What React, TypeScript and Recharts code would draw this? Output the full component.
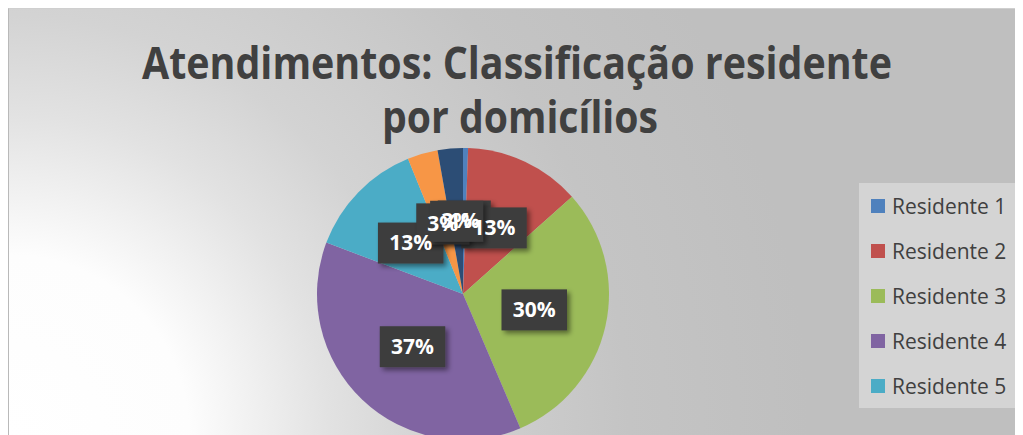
import { Cell, Legend, Pie, PieChart } from 'recharts'

const residentes = [
  'Residente 1',
  'Residente 2',
  'Residente 3',
  'Residente 4',
  'Residente 5',
  'Residente 6',
  'Residente 7',
]
const atendimentos = [2, 46, 108, 133, 47, 12, 10]
const sliceColors = ['#4f81bd', '#c0504d', '#9bbb59', '#8064a2', '#4bacc6', '#f79646', '#2c4d75']
const visibleLegendItems = 5

const titleLines = ['Atendimentos: Classificação residente', 'por domicílios']

const data = residentes.map((name, i) => ({ name, value: atendimentos[i] }))

const RAD = Math.PI / 180
const fontFamily = '"Open Sans", "Noto Sans", sans-serif'

type LabelProps = {
  cx?: number
  cy?: number
  midAngle?: number
  outerRadius?: number
  percent?: number
}

function labelPos({ cx = 0, cy = 0, midAngle = 0, outerRadius = 0, percent = 0 }: LabelProps) {
  const r = outerRadius * 0.5
  return {
    x: cx + r * Math.cos(-midAngle * RAD),
    y: cy + r * Math.sin(-midAngle * RAD),
    text: `${Math.round(percent * 100)}%`,
  }
}

// boxes first, texts in a second pass so every text sits above every box (like Excel)
function renderLabelBox(props: LabelProps) {
  const { x, y, text } = labelPos(props)
  const w = 28 + text.length * 12.5
  const h = 41
  return <rect x={x - w / 2} y={y - h / 2} width={w} height={h} fill="#3d3d3d" filter="url(#boxShadow)" />
}

function renderLabelText(props: LabelProps) {
  const { x, y, text } = labelPos(props)
  return (
    <text x={x} y={y + 7} textAnchor="middle" fill="#ffffff" fontFamily={fontFamily} fontWeight={700} fontSize={21}>
      {text}
    </text>
  )
}

type LegendEntry = { value?: string; color?: string }

function renderLegend(props: { payload?: LegendEntry[] }) {
  const seen = new Set<string>()
  const items = (props.payload || [])
    .filter((item) => {
      const key = String(item.value)
      if (seen.has(key)) return false
      seen.add(key)
      return true
    })
    .slice(0, visibleLegendItems)
  return (
    <div style={{ width: 157, height: 225, background: '#d4d4d4', position: 'relative' }}>
      {items.map((item, i) => (
        <div
          key={item.value}
          style={{ position: 'absolute', left: 12, top: 11 + i * 45, height: 24, display: 'flex', alignItems: 'center' }}
        >
          <span style={{ width: 14, height: 14, background: item.color, display: 'inline-block' }} />
          <span style={{ marginLeft: 7, fontFamily, fontSize: 21, color: '#404040', whiteSpace: 'nowrap' }}>
            {item.value}
          </span>
        </div>
      ))}
    </div>
  )
}

export default function App() {
  return (
    <div
      style={{
        width: 1015,
        height: 427,
        boxSizing: 'border-box',
        borderLeft: '1px solid #b9b9b9',
        borderTop: '1px solid #cfcfcf',
        overflow: 'hidden',
        background:
          'radial-gradient(circle at 0 100%, #ffffff 0px, #fdfdfd 180px, #e2e2e2 320px, #d3d3d3 420px, #c4c4c4 620px, #bfbfbf 800px)',
      }}
    >
      <PieChart width={1014} height={426} margin={{ top: 0, right: 0, bottom: 0, left: 0 }}>
        <defs>
          <filter id="boxShadow" x="-20%" y="-20%" width="150%" height="160%">
            <feDropShadow dx="3" dy="3" stdDeviation="2.5" floodColor="#000" floodOpacity="0.45" />
          </filter>
        </defs>
        <text
          x={508}
          y={70}
          textAnchor="middle"
          fill="#404040"
          fontFamily={fontFamily}
          fontWeight={700}
          fontSize={44}
          textLength={750}
          lengthAdjust="spacingAndGlyphs"
        >
          {titleLines[0]}
        </text>
        <text
          x={511}
          y={124}
          textAnchor="middle"
          fill="#404040"
          fontFamily={fontFamily}
          fontWeight={700}
          fontSize={44}
          textLength={276}
          lengthAdjust="spacingAndGlyphs"
        >
          {titleLines[1]}
        </text>
        <Pie
          data={data}
          dataKey="value"
          nameKey="name"
          cx={454}
          cy={285}
          outerRadius={146}
          startAngle={90}
          endAngle={-270}
          stroke="none"
          labelLine={false}
          label={renderLabelBox}
          isAnimationActive={false}
        >
          {data.map((d, i) => (
            <Cell key={d.name} fill={sliceColors[i]} />
          ))}
        </Pie>
        <Pie
          data={data}
          dataKey="value"
          nameKey="name"
          cx={454}
          cy={285}
          outerRadius={146}
          startAngle={90}
          endAngle={-270}
          fill="transparent"
          stroke="none"
          legendType="none"
          labelLine={false}
          label={renderLabelText}
          isAnimationActive={false}
        />
        <Legend
          content={renderLegend}
          wrapperStyle={{ position: 'absolute', left: 850, top: 174, width: 157, height: 225 }}
        />
      </PieChart>
    </div>
  )
}
